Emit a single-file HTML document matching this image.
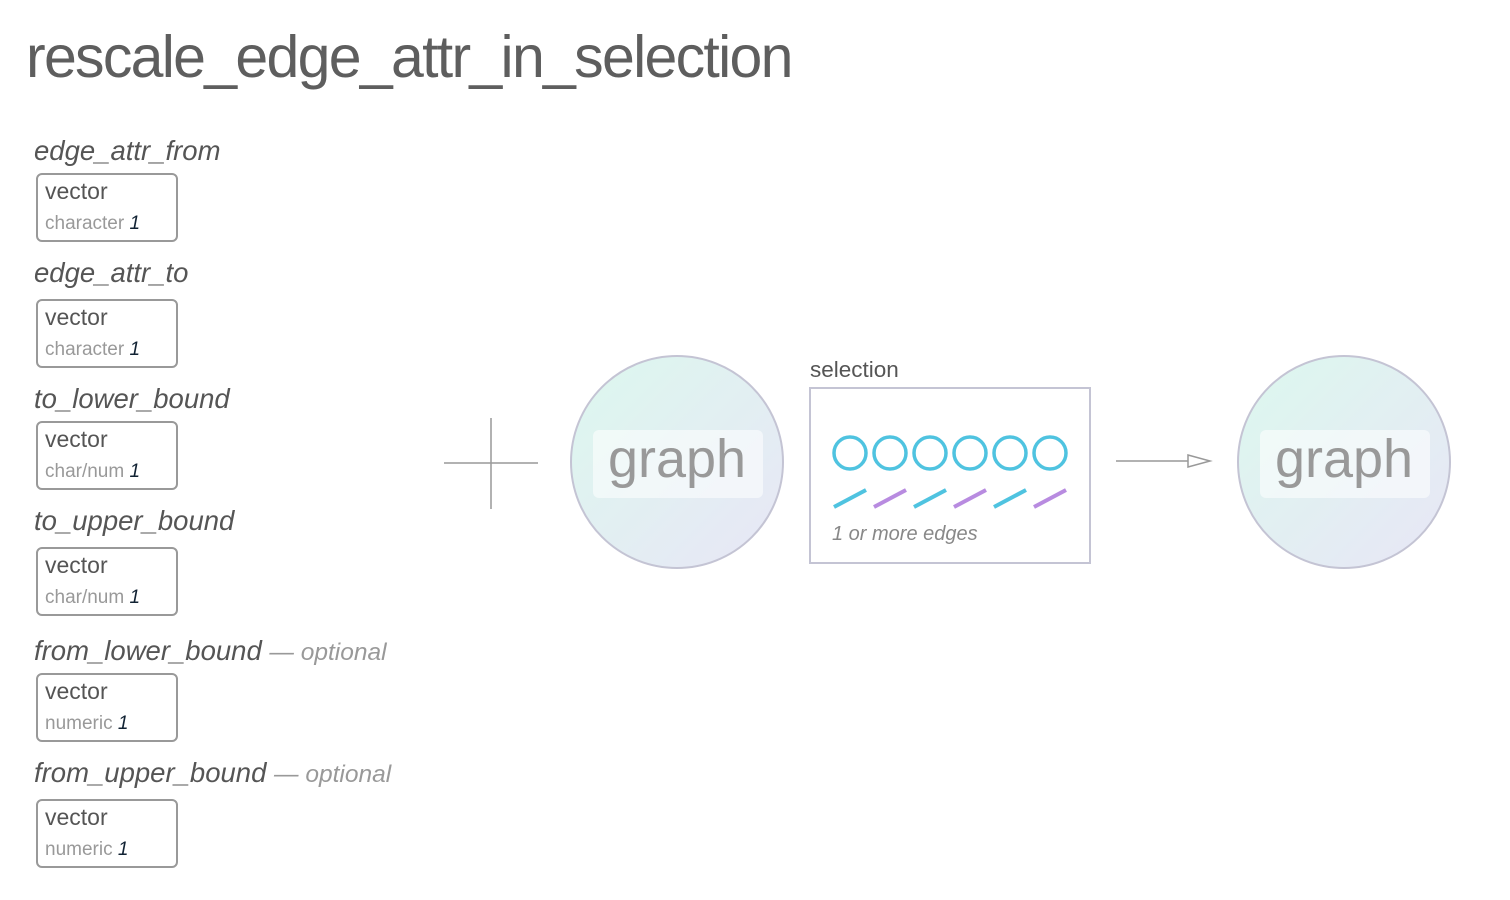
<!DOCTYPE html>
<html><head><meta charset="utf-8"><style>
html,body{margin:0;padding:0;background:#fff;}
svg{display:block;font-family:"Liberation Sans",Arial,sans-serif;}
</style></head><body>
<svg width="1510" height="900" viewBox="0 0 1510 900" xmlns="http://www.w3.org/2000/svg">
<defs>
<linearGradient id="g" x1="0" y1="0" x2="1" y2="1">
<stop offset="0" stop-color="#dcf8ee"/><stop offset="1" stop-color="#e8e6f6"/>
</linearGradient>
</defs>
<text x="26" y="77" font-size="59" fill="#5e5e5e" letter-spacing="-1.7">rescale_edge_attr_in_selection</text>

<g font-style="italic" font-size="27.5" fill="#555">
<text x="34" y="160">edge_attr_from</text>
<text x="34" y="282">edge_attr_to</text>
<text x="34" y="408">to_lower_bound</text>
<text x="34" y="530">to_upper_bound</text>
<text x="34" y="660">from_lower_bound <tspan fill="#999" font-size="24.5">— optional</tspan></text>
<text x="34" y="782">from_upper_bound <tspan fill="#999" font-size="24.5">— optional</tspan></text>
</g>
<g fill="#fff" stroke="#999" stroke-width="2">
<rect x="37" y="174" width="140" height="67" rx="5"/>
<rect x="37" y="300" width="140" height="67" rx="5"/>
<rect x="37" y="422" width="140" height="67" rx="5"/>
<rect x="37" y="548" width="140" height="67" rx="5"/>
<rect x="37" y="674" width="140" height="67" rx="5"/>
<rect x="37" y="800" width="140" height="67" rx="5"/>
</g>
<g font-size="23" fill="#555">
<text x="45" y="199">vector</text><text x="45" y="325">vector</text><text x="45" y="447">vector</text>
<text x="45" y="573">vector</text><text x="45" y="699">vector</text><text x="45" y="825">vector</text>
</g>
<g font-size="19" fill="#999">
<text x="45" y="229">character <tspan fill="#123" font-style="italic">1</tspan></text>
<text x="45" y="355">character <tspan fill="#123" font-style="italic">1</tspan></text>
<text x="45" y="477">char/num <tspan fill="#123" font-style="italic">1</tspan></text>
<text x="45" y="603">char/num <tspan fill="#123" font-style="italic">1</tspan></text>
<text x="45" y="729">numeric <tspan fill="#123" font-style="italic">1</tspan></text>
<text x="45" y="855">numeric <tspan fill="#123" font-style="italic">1</tspan></text>
</g>

<g stroke="#999" stroke-width="1.5">
<line x1="491" y1="418" x2="491" y2="509"/>
<line x1="444" y1="463" x2="538" y2="463"/>
</g>

<circle cx="677" cy="462" r="106" fill="url(#g)" stroke="#c4c4d4" stroke-width="2"/>
<rect x="593" y="430" width="170" height="68" rx="6" fill="#fff" fill-opacity="0.55"/>
<text x="677" y="477" font-size="54" fill="#999" text-anchor="middle">graph</text>

<circle cx="1344" cy="462" r="106" fill="url(#g)" stroke="#c4c4d4" stroke-width="2"/>
<rect x="1260" y="430" width="170" height="68" rx="6" fill="#fff" fill-opacity="0.55"/>
<text x="1344" y="477" font-size="54" fill="#999" text-anchor="middle">graph</text>

<text x="810" y="377" font-size="22.5" fill="#555">selection</text>
<rect x="810" y="388" width="280" height="175" fill="#fff" stroke="#c4c4d4" stroke-width="2"/>
<g fill="none" stroke="#4fc3e0" stroke-width="3.5">
<circle cx="850" cy="453" r="16"/><circle cx="890" cy="453" r="16"/><circle cx="930" cy="453" r="16"/>
<circle cx="970" cy="453" r="16"/><circle cx="1010" cy="453" r="16"/><circle cx="1050" cy="453" r="16"/>
</g>
<g stroke-width="4">
<line x1="834" y1="507" x2="866" y2="490" stroke="#4fc3e0"/>
<line x1="874" y1="507" x2="906" y2="490" stroke="#b88be0"/>
<line x1="914" y1="507" x2="946" y2="490" stroke="#4fc3e0"/>
<line x1="954" y1="507" x2="986" y2="490" stroke="#b88be0"/>
<line x1="994" y1="507" x2="1026" y2="490" stroke="#4fc3e0"/>
<line x1="1034" y1="507" x2="1066" y2="490" stroke="#b88be0"/>
</g>
<text x="832" y="540" font-size="20" font-style="italic" fill="#888">1 or more edges</text>

<line x1="1116" y1="461" x2="1190" y2="461" stroke="#999" stroke-width="1.5"/>
<polygon points="1188,455 1210,461 1188,467" fill="#fff" stroke="#999" stroke-width="1.5"/>
</svg>
</body></html>
